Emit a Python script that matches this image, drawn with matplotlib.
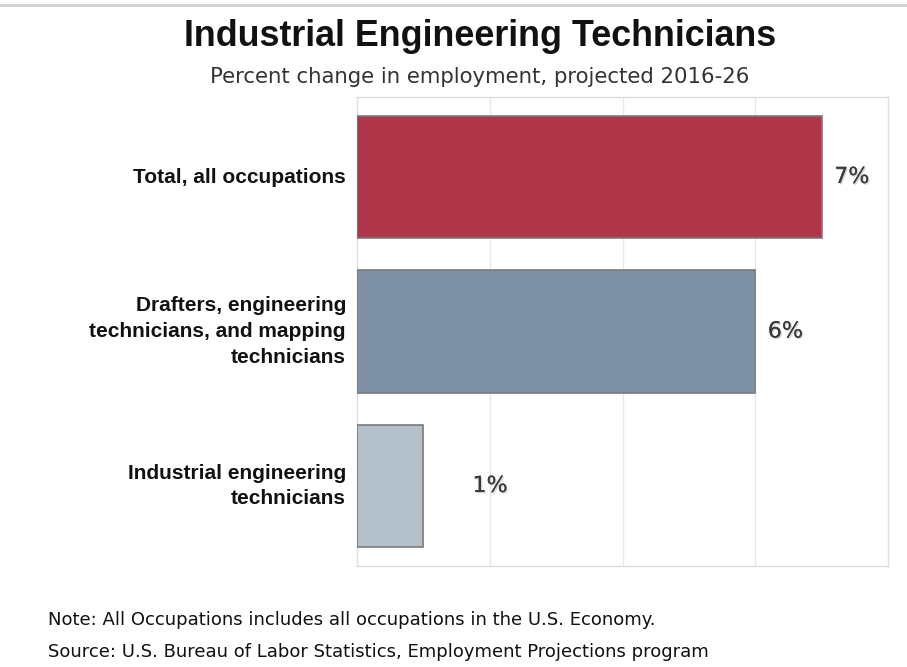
import matplotlib.pyplot as plt
import matplotlib.patheffects as pe

# chart data
categories = [
    "Total, all occupations",
    "Drafters, engineering\ntechnicians, and mapping\ntechnicians",
    "Industrial engineering\ntechnicians",
]
values = [7, 6, 1]
bar_colors = ["#B0374A", "#7E91A6", "#B4C1CA"]

fig = plt.figure(figsize=(9.07, 6.67), dpi=100)
ax = fig.add_axes([357 / 907, 1 - 566 / 667, (888 - 357) / 907, (566 - 97) / 667])

ypos = list(range(len(values)))
ax.barh(ypos, values, height=0.79, color=bar_colors, edgecolor="#7a7a7a", linewidth=1.2, zorder=3)

ax.set_xlim(0, 8)
ax.set_ylim(len(values) - 0.482, -0.518)
ax.set_xticks([2, 4, 6])
ax.set_xticklabels([])
ax.tick_params(axis="x", length=0)
ax.grid(axis="x", color="#e8e8e8", linewidth=1, zorder=0)

ax.set_yticks(ypos)
ax.set_yticklabels(categories, fontsize=15, fontweight="bold", family="Liberation Sans",
                   linespacing=1.45, color="#111111")
for lbl in ax.get_yticklabels():
    lbl.set_va("center")
ax.tick_params(axis="y", length=0, pad=8)

for s in ax.spines.values():
    s.set_color("#dedede")
    s.set_linewidth(1)

# value labels (small bars get their label pushed out a bit, like the original)
shadow = [pe.withSimplePatchShadow(offset=(1, -1), shadow_rgbFace="#bbbbbb", alpha=0.6), pe.Normal()]
for y, v in zip(ypos, values):
    t = ax.annotate(f"{v}%", xy=(max(v, 1.55), y), xytext=(9, 0), textcoords="offset points",
                    va="center", ha="left", fontsize=16, color="#3a3a3a",
                    family="DejaVu Sans", zorder=4)
    t.set_path_effects(shadow)

# titles
fig.text(480 / 907, 1 - 37 / 667, "Industrial Engineering Technicians", ha="center", va="center",
         fontsize=25.8, fontweight="bold", family="Liberation Sans", color="#111111")
fig.text(480 / 907, 1 - 77 / 667, "Percent change in employment, projected 2016-26", ha="center",
         va="center", fontsize=15.3, family="DejaVu Sans", color="#333333")

# notes
fig.text(48 / 907, 1 - 620 / 667, "Note: All Occupations includes all occupations in the U.S. Economy.",
         ha="left", va="center", fontsize=13, family="DejaVu Sans", color="#111111")
fig.text(48 / 907, 1 - 652 / 667, "Source: U.S. Bureau of Labor Statistics, Employment Projections program",
         ha="left", va="center", fontsize=13, family="DejaVu Sans", color="#111111")

# top separator line
fig.add_artist(plt.Line2D([0, 1], [1 - 5 / 667, 1 - 5 / 667], color="#d0d0d0", linewidth=2))

fig.savefig("out.png", dpi=100)
